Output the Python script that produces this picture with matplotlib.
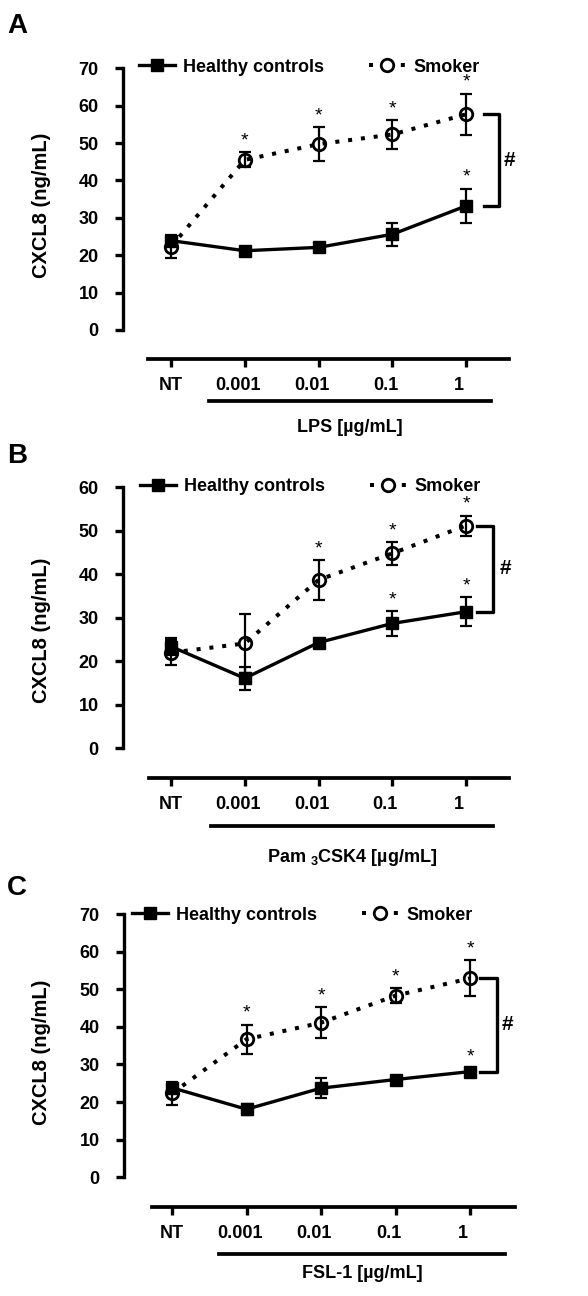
import matplotlib
matplotlib.use("Agg")
import matplotlib.pyplot as plt
from matplotlib.lines import Line2D
from matplotlib.transforms import ScaledTranslation

plt.rcParams['font.family'] = ['Liberation Sans', 'DejaVu Sans']
plt.rcParams['font.weight'] = 'bold'
plt.rcParams['mathtext.fontset'] = 'custom'
plt.rcParams['mathtext.rm'] = 'Liberation Sans:bold'
plt.rcParams['mathtext.default'] = 'rm'

doses = ["NT", "0.001", "0.01", "0.1", "1"]

# panel A - LPS
healthy_a = [23.9, 21.2, 22.1, 25.6, 33.2]
healthy_a_err = [1.0, 0.8, 1.0, 3.1, 4.6]
smoker_a = [22.3, 45.5, 49.7, 52.3, 57.7]
smoker_a_err = [3.0, 2.0, 4.6, 3.8, 5.5]
stars_healthy_a = [0, 0, 0, 0, 1]
stars_smoker_a = [0, 1, 1, 1, 1]

# panel B - Pam3CSK4
healthy_b = [23.4, 16.1, 24.3, 28.7, 31.4]
healthy_b_err = [1.9, 2.7, 0.8, 2.8, 3.3]
smoker_b = [22.0, 24.1, 38.7, 44.8, 51.2]
smoker_b_err = [2.8, 6.7, 4.6, 2.6, 2.3]
stars_healthy_b = [0, 0, 0, 1, 1]
stars_smoker_b = [0, 0, 1, 1, 1]

# panel C - FSL-1
healthy_c = [23.8, 18.1, 23.7, 26.0, 28.1]
healthy_c_err = [1.0, 1.5, 2.6, 0.8, 0.8]
smoker_c = [22.3, 36.7, 41.1, 48.3, 52.9]
smoker_c_err = [3.0, 3.9, 4.1, 1.9, 4.8]
stars_healthy_c = [0, 0, 0, 0, 1]
stars_smoker_c = [0, 1, 1, 1, 1]

W, H = 588, 1296
fig = plt.figure(figsize=(W / 100, H / 100), dpi=100)

DOTS = (0, (1, 2.2))
LEG_DOTS = (0, (1, 6.9))  # one dot each side of the circle in the legend


def panel(letter, healthy, healthy_err, smoker, smoker_err, st_h, st_s,
          ymax, xlabel, lay):
    nt, step = lay["nt"], lay["step"]
    ppu, zero = lay["ppu"], lay["zero"]
    ytop = ymax + 2
    ybot = -(lay["axis"] - zero) / ppu
    top_px = zero - ytop * ppu
    ax = fig.add_axes([lay["spine"] / W, 1 - lay["axis"] / H,
                       (lay["x1"] - lay["spine"]) / W,
                       (lay["axis"] - top_px) / H])
    ax.set_xlim((lay["spine"] - nt) / step, (lay["x1"] - nt) / step)
    ax.set_ylim(ybot, ytop)
    x = list(range(len(doses)))

    ax.errorbar(x, healthy, yerr=healthy_err, fmt="none", ecolor="k",
                elinewidth=1.6, capsize=4.5, capthick=1.6, zorder=3)
    ax.errorbar(x, smoker, yerr=smoker_err, fmt="none", ecolor="k",
                elinewidth=1.6, capsize=4.5, capthick=1.6, zorder=3)
    ax.plot(x, healthy, color="k", lw=2.4, marker="s", ms=8, zorder=4)
    ax.plot(x, smoker, color="k", lw=2.9, ls=DOTS, zorder=2)
    ax.plot(x, smoker, ls="none", marker="o", ms=9, mfc="none",
            mec="k", mew=2, zorder=5)

    for i in x:
        if st_s[i]:
            ax.annotate("*", (i, smoker[i] + smoker_err[i]), xytext=(0, 2),
                        textcoords="offset points", ha="center", va="bottom",
                        fontsize=14, fontweight="normal")
        if st_h[i]:
            ax.annotate("*", (i, healthy[i] + healthy_err[i]), xytext=(0, 2),
                        textcoords="offset points", ha="center", va="bottom",
                        fontsize=14, fontweight="normal")

    # significance bracket
    bx0 = (lay["bracket"][0] - nt) / step
    bx1 = (lay["bracket"][1] - nt) / step
    ax.plot([bx0, bx1, bx1, bx0], [smoker[-1], smoker[-1], healthy[-1], healthy[-1]],
            color="k", lw=2.4, clip_on=False)
    ax.text((lay["hash"] - nt) / step, (smoker[-1] + healthy[-1]) / 2, "#",
            ha="center", va="center", fontsize=15)

    for s in ("top", "right"):
        ax.spines[s].set_visible(False)
    ax.spines["left"].set_bounds(0, ymax)
    ax.spines["left"].set_linewidth(2.4)
    ax.spines["bottom"].set_bounds((lay["x0"] - nt) / step, (lay["x1"] - nt) / step)
    ax.spines["bottom"].set_linewidth(2.7)
    ax.set_yticks(range(0, ymax + 1, 10))
    ax.tick_params(axis="y", length=5.5, width=2.4, pad=12, labelsize=13)
    ax.set_xticks(x, doses)
    ax.tick_params(axis="x", length=6, width=2.4, pad=7, labelsize=13)
    for lbl in ax.get_xticklabels()[1:]:
        lbl.set_transform(lbl.get_transform()
                          + ScaledTranslation(-0.07, 0, fig.dpi_scale_trans))

    ax.set_ylabel("CXCL8 (ng/mL)", fontsize=14.5, fontweight="bold")
    ax.yaxis.set_label_coords((lay["ylab"] - lay["spine"]) / (lay["x1"] - lay["spine"]),
                              1 - (lay["ylab_y"] - top_px) / (lay["axis"] - top_px))

    # treatment bar and label
    b0, b1, by = lay["bar"]
    fig.add_artist(Line2D([b0 / W, b1 / W], [1 - by / H, 1 - by / H],
                          color="k", lw=2.7))
    fig.text((b0 + b1) / 2 / W, 1 - lay["xlab"] / H, xlabel, ha="center",
             va="center", fontsize=13)

    fig.text(lay["letter"][0] / W, 1 - lay["letter"][1] / H, letter,
             ha="left", va="top", fontsize=20, fontweight="bold")

    handles = [
        Line2D([], [], color="k", lw=2.4, marker="s", ms=8),
        Line2D([], [], color="k", lw=2.9, ls=LEG_DOTS, marker="o",
               ms=9, mfc="white", mec="k", mew=2),
    ]
    ax.legend(handles, ["Healthy controls", "Smoker"], loc="center left",
              bbox_to_anchor=(lay["legend"][0] / W, 1 - lay["legend"][1] / H),
              bbox_transform=fig.transFigure, ncol=2, frameon=False,
              prop={"size": 13, "weight": "bold"}, handlelength=2.0,
              handletextpad=0.45, columnspacing=2.5, borderpad=0,
              borderaxespad=0)


lay_a = dict(spine=123, nt=171, step=73.8, x0=148, x1=509, zero=330,
             ppu=3.739, axis=359, bar=(209, 491, 401), xlab=428,
             bracket=(484, 499), hash=509, legend=(139, 67), letter=(7, 13),
             ylab=51, ylab_y=205)
lay_b = dict(spine=123, nt=171, step=73.75, x0=149, x1=509, zero=748.3,
             ppu=4.35, axis=777.7, bar=(211, 493, 826), xlab=857,
             bracket=(477, 493), hash=505, legend=(140, 487), letter=(7, 443),
             ylab=51, ylab_y=630)
lay_c = dict(spine=124, nt=172, step=74.5, x0=152, x1=515, zero=1177.3,
             ppu=3.761, axis=1206.7, bar=(219, 505, 1254), xlab=1274,
             bracket=(480, 497), hash=507, legend=(132, 915), letter=(7, 875),
             ylab=51, ylab_y=1052)

panel("A", healthy_a, healthy_a_err, smoker_a, smoker_a_err,
      stars_healthy_a, stars_smoker_a, 70, "LPS [µg/mL]", lay_a)
panel("B", healthy_b, healthy_b_err, smoker_b, smoker_b_err,
      stars_healthy_b, stars_smoker_b, 60, r"Pam $_{3}$CSK4 [µg/mL]", lay_b)
panel("C", healthy_c, healthy_c_err, smoker_c, smoker_c_err,
      stars_healthy_c, stars_smoker_c, 70, "FSL-1 [µg/mL]", lay_c)

fig.savefig("out.png", dpi=100)
